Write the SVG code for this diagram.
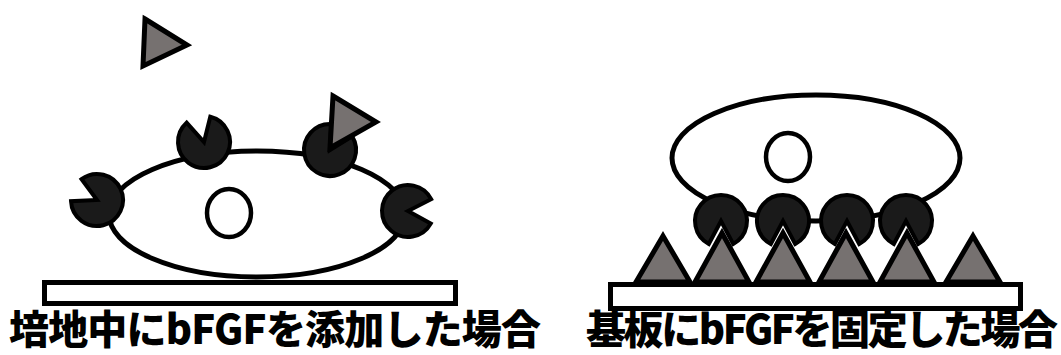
<svg xmlns="http://www.w3.org/2000/svg" xmlns:xlink="http://www.w3.org/1999/xlink" width="1061" height="355" viewBox="0 0 1061 355">
  <style>
    .cell { fill: #ffffff; stroke: #000000; stroke-width: 5; }
    .nucleus { fill: #ffffff; stroke: #000000; stroke-width: 4.5; }
    .receptor { fill: #1a1a1a; stroke: #000000; stroke-width: 4; stroke-linejoin: miter; }
    .ligand { fill: #767170; stroke: #000000; stroke-width: 5; stroke-linejoin: miter; }
    .substrate { fill: #ffffff; stroke: #000000; stroke-width: 5; }
    .caption { font-family: "Noto Sans CJK JP", "Noto Sans", sans-serif; font-weight: 900; font-size: 40px; fill: #000000; }
  </style>
  <defs>
    <!-- receptor: disc with a wedge-shaped binding pocket opening downwards -->
    <path id="rc" d="M0,0 L-12.21,22.96 A26,26 0 1 1 12.21,22.96 Z"/>
  </defs>

  <!-- left panel: bFGF added to the medium -->
  <g id="substrate-left">
    <rect class="substrate" x="44.5" y="282.5" width="411" height="21"/>
  </g>
  <g id="cell-left">
    <ellipse class="cell" cx="257" cy="214" rx="148" ry="63"/>
  </g>
  <g id="nucleus-left">
    <ellipse class="nucleus" cx="229" cy="213" rx="22" ry="24"/>
  </g>
  <g id="receptor-left-1">
    <use xlink:href="#rc" href="#rc" class="receptor" transform="translate(97,200) rotate(115.5)"/>
  </g>
  <g id="receptor-left-2">
    <use xlink:href="#rc" href="#rc" class="receptor" transform="translate(204,142) rotate(166)"/>
  </g>
  <g id="receptor-left-3">
    <use xlink:href="#rc" href="#rc" class="receptor" transform="translate(330,150) rotate(-149.5)"/>
  </g>
  <g id="receptor-left-4">
    <use xlink:href="#rc" href="#rc" class="receptor" transform="translate(408,211) rotate(-89)"/>
  </g>
  <g id="bfgf-free">
    <polygon class="ligand" points="145,19 187,45 143,66"/>
  </g>
  <g id="bfgf-bound">
    <polygon class="ligand" points="333,96 376,122 330,148"/>
  </g>
  <g id="caption-left">
    <text class="caption" x="9" y="344" textLength="532" lengthAdjust="spacing">培地中にbFGFを添加した場合</text>
  </g>

  <!-- right panel: bFGF immobilised on the substrate -->
  <g id="substrate-right">
    <rect class="substrate" x="610.5" y="284.5" width="410" height="24"/>
  </g>
  <g id="bfgf-immobilised">
    <polygon class="ligand" points="663,236 690,282 636,282"/>
    <polygon class="ligand" points="722,233 749,282 695,282"/>
    <polygon class="ligand" points="783,233 810,282 756,282"/>
    <polygon class="ligand" points="846,233 873,282 819,282"/>
    <polygon class="ligand" points="907,233 934,282 880,282"/>
    <polygon class="ligand" points="973,236 1000,282 946,282"/>
  </g>
  <g id="cell-right">
    <ellipse class="cell" cx="816" cy="158" rx="144" ry="63"/>
  </g>
  <g id="nucleus-right">
    <ellipse class="nucleus" cx="788" cy="157" rx="22" ry="24"/>
  </g>
  <g id="receptor-right-1">
    <use xlink:href="#rc" href="#rc" class="receptor" transform="translate(721,221)"/>
  </g>
  <g id="receptor-right-2">
    <use xlink:href="#rc" href="#rc" class="receptor" transform="translate(783,221)"/>
  </g>
  <g id="receptor-right-3">
    <use xlink:href="#rc" href="#rc" class="receptor" transform="translate(847,221)"/>
  </g>
  <g id="receptor-right-4">
    <use xlink:href="#rc" href="#rc" class="receptor" transform="translate(906,221)"/>
  </g>
  <g id="caption-right">
    <text class="caption" x="586" y="344" textLength="472" lengthAdjust="spacing">基板にbFGFを固定した場合</text>
  </g>
</svg>
